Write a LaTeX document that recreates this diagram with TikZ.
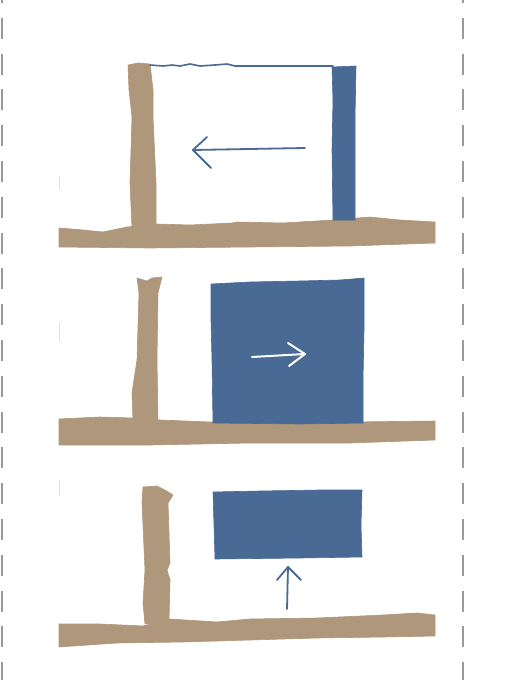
\documentclass[tikz,border=0pt]{standalone}
\definecolor{tan}{HTML}{AE977B}
\definecolor{doorblue}{HTML}{486A94}
\definecolor{dashgray}{HTML}{9A9A9A}
\tikzset{
  wall/.style={fill=tan, draw=tan, line width=0.6pt, line join=round},
  door/.style={fill=doorblue, draw=doorblue, line width=0.6pt, line join=round},
  guide/.style={draw=dashgray, line width=1.3pt, dash pattern=on 21pt off 14.8pt},
  motion/.style={line width=2pt, line cap=round, line join=round},
  trace/.style={draw=doorblue, line width=1.8pt, line cap=round, line join=round},
  speck/.style={draw=tan!30, line width=1pt}
}
\begin{document}
\begin{tikzpicture}[x=1pt,y=-1pt]
\useasboundingbox (0,0) rectangle (517,680);
\fill[white] (0,0) rectangle (517,680);
\clip (0,0) rectangle (517,680);

% dashed guide lines
\draw[guide] (2,-18) -- (2,700);
\draw[guide] (463,-18) -- (463,700);
% faint specks
\draw[speck] (59,176) -- (59,190);
\draw[speck] (59,322) -- (59,342);
\draw[speck] (59,480) -- (59,496);

% ---------------- Panel 1 ----------------
% ground
\filldraw[wall] (59,228) -- (83,230) -- (103,232) -- (127,227) -- (157,224) -- (190,225)
  -- (232,223) -- (237,222) -- (283,223) -- (333,220) -- (370,217) -- (400,220) -- (435,222)
  -- (435,243) -- (350,246) -- (250,247) -- (150,248) -- (59,247) -- cycle;
% tan post
\filldraw[wall] (128,65) -- (138,63) -- (150,64) -- (153,90) -- (153,117) -- (156,183) -- (156,228)
  -- (132,228) -- (130,183) -- (132,117) -- (129,90) -- cycle;
% blue post (open door edge)
\filldraw[door] (332,67) -- (356,66) -- (355,117) -- (355,170) -- (355,220)
  -- (333,220) -- (332,150) -- (333,100) -- cycle;
% top line
\draw[trace, line width=1.6pt] (150,65) -- (163,66) -- (172,65) -- (180,66) -- (190,64) -- (200,66) -- (215,65)
  -- (227,64) -- (235,66) -- (290,66) -- (333,66);
% arrow left
\draw[trace] (305,148) -- (193,150);
\draw[trace] (207,137) -- (193,150) -- (211,168);

% ---------------- Panel 2 ----------------
\filldraw[wall] (59,419) -- (100,417) -- (133,418) -- (160,420) -- (210,422) -- (250,422)
  -- (317,422) -- (333,419) -- (350,422) -- (435,421)
  -- (435,440) -- (350,443) -- (250,443) -- (150,445) -- (59,445) -- cycle;
\filldraw[wall] (137,278) -- (147,281) -- (152,278) -- (162,277) -- (158,293) -- (157,360)
  -- (158,421) -- (133,421) -- (132,393) -- (137,360) -- (139,293) -- cycle;
\filldraw[door] (211,284) -- (250,282) -- (300,281) -- (340,280) -- (364,278) -- (364,330)
  -- (363,380) -- (363,423) -- (300,424) -- (213,423) -- (212,360) -- (211,320) -- cycle;
\draw[white, motion] (252,357) -- (305,354);
\draw[white, motion] (288,343) -- (305,354) -- (289,366);

% ---------------- Panel 3 ----------------
\filldraw[wall] (59,624) -- (100,624) -- (143,626) -- (170,619) -- (217,622) -- (250,619)
  -- (317,618) -- (383,615) -- (417,613) -- (435,615)
  -- (435,636) -- (383,637) -- (317,638) -- (250,640) -- (183,642) -- (117,643) -- (59,647) -- cycle;
\filldraw[wall] (143,487) -- (157,486) -- (165,490) -- (173,495) -- (168,503) -- (170,563)
  -- (167,570) -- (170,580) -- (169,622) -- (145,624) -- (143,603) -- (145,570) -- (142,503) -- cycle;
\filldraw[door] (213,492) -- (260,491) -- (320,490) -- (362,490) -- (361,525) -- (362,557)
  -- (300,558) -- (215,559) -- (214,525) -- cycle;
\draw[trace] (287,609) -- (288,567);
\draw[trace] (277,580) -- (288,567) -- (301,580);
\end{tikzpicture}
\end{document}
